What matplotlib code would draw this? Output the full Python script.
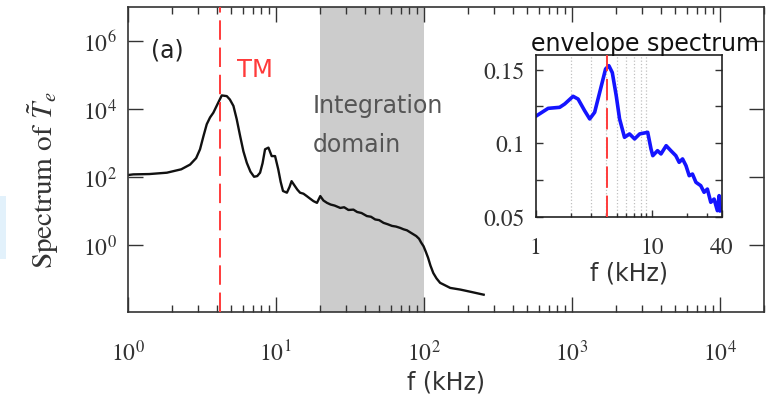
import matplotlib
matplotlib.use("Agg")
import matplotlib.pyplot as plt
import numpy as np
from matplotlib.patches import Rectangle
from matplotlib.ticker import FixedLocator, LogLocator, NullLocator, NullFormatter

plt.rcParams["mathtext.fontset"] = "stix"

SERIF = "STIXGeneral"
SANS = "DejaVu Sans"

# Main spectrum (f in kHz, spectrum as log10 value).
spec_f = [1.0, 1.09, 1.4, 1.84, 2.3, 2.64, 2.9, 3.08, 3.25, 3.42, 3.6, 3.79, 4.05, 4.32,
          4.67, 4.9, 5.18, 5.45, 5.75, 6.05, 6.38, 6.75, 7.14, 7.5, 7.84, 8.15, 8.47, 8.93,
          9.39, 9.9, 10.4, 10.8, 11.2, 11.9, 12.4, 12.8, 13.5, 14.0, 14.6, 15.4, 16.2, 17.0,
          18.0, 19.0, 20.0, 21.0, 22.2, 23.5, 25.0, 27.3, 29.0, 31.0, 33.5, 35.5, 38.0, 41.3,
          44.0, 47.0, 50.0, 53.5, 57.0, 61.0, 65.0, 69.4, 73.0, 77.0, 81.0, 85.3, 89.0, 93.0,
          96.0, 99.7, 103.0, 107.0, 111.0, 116.0, 122.0, 129.0, 136.0, 151.0, 177.0, 210.0,
          254.0]
spec_log10 = [2.05, 2.07, 2.08, 2.12, 2.22, 2.36, 2.55, 2.81, 3.2, 3.55, 3.75, 3.89, 4.15, 4.40,
              4.38, 4.28, 4.09, 3.7, 3.20, 2.75, 2.41, 2.15, 2.0, 2.02, 2.12, 2.4, 2.81, 2.86,
              2.61, 2.61, 2.22, 1.85, 1.58, 1.53, 1.7, 1.87, 1.72, 1.62, 1.53, 1.5, 1.43, 1.36,
              1.28, 1.23, 1.43, 1.3, 1.23, 1.18, 1.15, 1.08, 1.1, 1.02, 1.03, 0.96, 0.93, 0.84,
              0.82, 0.74, 0.72, 0.64, 0.6, 0.55, 0.53, 0.49, 0.45, 0.42, 0.36, 0.30, 0.25, 0.17,
              0.06, -0.05, -0.2, -0.39, -0.62, -0.84, -1.0, -1.13, -1.18, -1.28, -1.33, -1.40,
              -1.48]

# Envelope spectrum (inset).
env_f = [1.02, 1.28, 1.61, 1.78, 2.10, 2.32, 2.64, 2.92, 3.22, 3.68, 4.0, 4.27, 4.57, 4.94,
         5.28, 5.82, 6.43, 7.11, 7.86, 9.22, 9.85, 10.2, 11.2, 12.0, 13.3, 14.6, 16.1, 17.2,
         18.4, 19.7, 21.0, 22.4, 24.0, 26.4, 28.2, 30.1, 32.2, 34.4, 36.7, 38.0, 39.0]
env_v = [0.1187, 0.1237, 0.1244, 0.1267, 0.1319, 0.130, 0.1221, 0.1165, 0.121, 0.1391, 0.1505,
         0.1527, 0.148, 0.1323, 0.1165, 0.104, 0.1063, 0.1029, 0.1063, 0.1074, 0.096, 0.0915,
         0.0949, 0.0927, 0.0983, 0.0949, 0.0915, 0.087, 0.0893, 0.0847, 0.0779, 0.079, 0.0734,
         0.0711, 0.0666, 0.0688, 0.0598, 0.062, 0.0541, 0.0643, 0.054]

TM_FREQ = 4.2
INTEGRATION_RANGE = (20, 100)
inset_grid_f = [2, 3, 4, 5, 6, 7, 8, 9]

main_xticks = [1, 10, 100, 1e3, 1e4]
main_xlabels = [r"$10^{0}$", r"$10^{1}$", r"$10^{2}$", r"$10^{3}$", r"$10^{4}$"]
main_yticks = [1, 1e2, 1e4, 1e6]
main_ylabels = [r"$10^{0}$", r"$10^{2}$", r"$10^{4}$", r"$10^{6}$"]
inset_xticks = [1, 10, 40]
inset_xlabels = ["1", "10", "40"]
inset_yticks = [0.05, 0.075, 0.1, 0.125, 0.15]
inset_ylabels = ["0.05", "", "0.1", "", "0.15"]

RED = "#ff3a3a"
TICK_COLOR = "#333333"

fig = plt.figure(figsize=(7.82, 4.06), dpi=100)

# faint blue patch at the left edge of the original screenshot
fig.patches.append(Rectangle((0, 0.36), 0.008, 0.155, transform=fig.transFigure,
                             color="#e2f1fb", lw=0, zorder=0))

ax = fig.add_axes([0.1633, 0.2283, 0.8141, 0.7512])
ax.axvspan(*INTEGRATION_RANGE, color="#cccccc", lw=0, zorder=0)
ax.plot(spec_f, np.power(10.0, spec_log10), color="#111111", lw=1.7, zorder=2)
ax.axvline(TM_FREQ, color=RED, lw=1.4, ls=(0, (10, 4)), zorder=3)
ax.set_xscale("log")
ax.set_yscale("log")
ax.set_xlim(1, 2e4)
ax.set_ylim(1e-2, 1e7)
ax.xaxis.set_major_locator(FixedLocator(main_xticks))
ax.xaxis.set_minor_locator(LogLocator(base=10, subs=range(2, 10), numticks=20))
ax.xaxis.set_minor_formatter(NullFormatter())
ax.set_xticklabels(main_xlabels)
ax.set_yticks(main_yticks)
ax.set_yticklabels(main_ylabels)
ax.yaxis.set_minor_locator(NullLocator())
ax.tick_params(which="both", direction="in", top=True, right=True, color=TICK_COLOR,
               labelcolor=TICK_COLOR, labelsize=17, width=1)
ax.tick_params(which="major", length=11)
ax.tick_params(which="minor", length=5)
ax.tick_params(axis="x", pad=20)
ax.tick_params(axis="y", pad=8)
for spine in ax.spines.values():
    spine.set_color(TICK_COLOR)
    spine.set_linewidth(1.2)

ax.set_xlabel("f (kHz)", family=SANS, fontsize=17, color="#333333", labelpad=3)
ax.set_ylabel(r"Spectrum of $\tilde{T}_e$", family=SERIF, fontsize=21, color="#333333")
ax.yaxis.set_label_coords(-0.105, 0.435)

ax.text(0.037, 0.863, "(a)", transform=ax.transAxes, fontsize=17, family=SANS,
        color="#222222", va="center")
ax.text(0.171, 0.776, "TM", transform=ax.transAxes, fontsize=17.5, family=SANS, color=RED)
ax.text(0.291, 0.656, "Integration", transform=ax.transAxes, fontsize=17, family=SANS,
        color="#555555")
ax.text(0.291, 0.529, "domain", transform=ax.transAxes, fontsize=17, family=SANS,
        color="#555555")

ins = fig.add_axes([0.6850, 0.4638, 0.2379, 0.3983])
for g in inset_grid_f:
    ins.axvline(g, color="#c0c0c0", ls=":", lw=0.9, zorder=0)
ins.plot(env_f, env_v, color="#1414ff", lw=2.6, zorder=2)
ins.axvline(4.15, color=RED, lw=1.4, ls=(0, (11, 4)), zorder=3)
ins.set_xscale("log")
ins.set_xlim(1, 40)
ins.set_ylim(0.05, 0.16)
ins.xaxis.set_major_locator(FixedLocator(inset_xticks))
ins.xaxis.set_minor_locator(LogLocator(base=10, subs=range(2, 10), numticks=20))
ins.xaxis.set_minor_formatter(NullFormatter())
ins.set_xticklabels(inset_xlabels, family=SERIF)
ins.set_yticks(inset_yticks)
ins.set_yticklabels(inset_ylabels, family=SERIF)
ins.tick_params(which="both", direction="in", right=True, color=TICK_COLOR,
                labelcolor=TICK_COLOR, labelsize=17, width=1)
ins.tick_params(which="major", length=5)
ins.tick_params(which="minor", length=3)
ins.tick_params(axis="x", pad=14)
ins.tick_params(axis="y", pad=8)
for spine in ins.spines.values():
    spine.set_color("#222222")
    spine.set_linewidth(1.2)
ins.set_xlabel("f (kHz)", family=SANS, fontsize=17, color="#333333", labelpad=2)
fig.text(531 / 782, 1 - 51 / 406, "envelope spectrum", family=SANS, fontsize=17,
         color="#111111", va="baseline")

fig.savefig("out.png", dpi=100)
